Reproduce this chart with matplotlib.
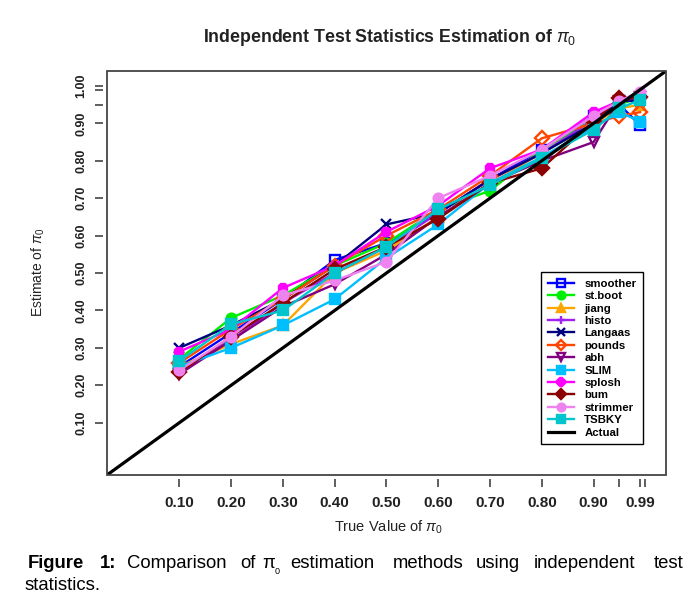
import matplotlib
matplotlib.use("Agg")
import matplotlib.pyplot as plt
from matplotlib.patches import Rectangle

plt.rcParams['font.family'] = ['Liberation Sans', 'DejaVu Sans']
plt.rcParams['mathtext.fontset'] = 'custom'
plt.rcParams['mathtext.rm'] = 'Liberation Sans'
plt.rcParams['mathtext.it'] = 'Liberation Sans:italic'
plt.rcParams['mathtext.bf'] = 'Liberation Sans:bold'

# ---------------- data ----------------
true_pi0 = [0.10, 0.20, 0.30, 0.40, 0.50, 0.60, 0.70, 0.80, 0.90, 0.95, 0.99]

smoother = [0.25, 0.34, 0.43, 0.535, 0.58, 0.66, 0.75, 0.83, 0.92, 0.95, 0.895]
st_boot  = [0.27, 0.38, 0.44, 0.52, 0.58, 0.67, 0.72, 0.83, 0.91, 0.95, 0.97]
jiang    = [0.25, 0.31, 0.36, 0.50, 0.56, 0.65, 0.74, 0.82, 0.90, 0.94, 0.95]
histo    = [0.24, 0.32, 0.42, 0.50, 0.57, 0.66, 0.75, 0.82, 0.91, 0.96, 0.97]
langaas  = [0.30, 0.36, 0.43, 0.52, 0.63, 0.66, 0.75, 0.82, 0.90, 0.96, 0.96]
pounds   = [0.26, 0.35, 0.43, 0.52, 0.60, 0.67, 0.76, 0.86, 0.90, 0.92, 0.93]
abh      = [0.23, 0.32, 0.41, 0.47, 0.55, 0.65, 0.74, 0.80, 0.85, 0.96, 0.97]
slim     = [0.25, 0.30, 0.36, 0.43, 0.54, 0.63, 0.74, 0.81, 0.89, 0.93, 0.905]
splosh   = [0.29, 0.35, 0.46, 0.52, 0.61, 0.68, 0.78, 0.83, 0.93, 0.96, 0.98]
bum      = [0.235, 0.33, 0.42, 0.51, 0.57, 0.645, 0.74, 0.78, 0.905, 0.967, 0.97]
strimmer = [0.24, 0.33, 0.44, 0.48, 0.53, 0.70, 0.76, 0.83, 0.92, 0.96, 0.985]
tsbky    = [0.265, 0.363, 0.40, 0.50, 0.57, 0.67, 0.735, 0.807, 0.883, 0.94, 0.963]

method_names = ["smoother", "st.boot", "jiang", "histo", "Langaas", "pounds",
                "abh", "SLIM", "splosh", "bum", "strimmer", "TSBKY"]
method_values = [smoother, st_boot, jiang, histo, langaas, pounds,
                 abh, slim, splosh, bum, strimmer, tsbky]

x_ticks = [0.10, 0.20, 0.30, 0.40, 0.50, 0.60, 0.70, 0.80, 0.90, 0.95, 0.99, 1.00]
x_ticklabels = ["0.10", "0.20", "0.30", "0.40", "0.50", "0.60", "0.70", "0.80",
                "0.90", "", "0.99", ""]
y_ticks = [0.10, 0.20, 0.30, 0.40, 0.50, 0.60, 0.70, 0.80, 0.90, 0.95, 0.99, 1.00]
y_ticklabels = ["0.10", "0.20", "0.30", "0.40", "0.50", "0.60", "0.70", "0.80",
                "0.90", "", "", "1.00"]

# ---------------- styles ----------------
colors = ["#0000FF", "#00EE00", "#FFA500", "#A020F0", "#000080", "#FF4500",
          "#800080", "#00BFFF", "#FF00FF", "#8B0000", "#EE82EE", "#00C5CD"]
markers = ["s", "o", "^", "+", "x", "D", "v", "s", "8", "D", "o", "s"]
hollow = [True, False, False, False, False, True, True, False, False, False, False, False]

W, H = 697, 598
fig = plt.figure(figsize=(W / 100, H / 100), dpi=100)

def px(x, y):
    return x / W, 1 - y / H

L, R, T, B = 107, 666, 71, 475
ax = fig.add_axes([L / W, 1 - B / H, (R - L) / W, (B - T) / H])
ax.set_xlim(-0.04, 1.04)
ax.set_ylim(-0.04, 1.04)

for name, vals, c, m, h in zip(method_names, method_values, colors, markers, hollow):
    ax.plot(true_pi0, vals, color=c, lw=1.7, marker=m, ms=7,
            mfc=("none" if h else c), mec=c, mew=1.7, label=name)

ax.axline((0, 0), (1, 1), color="black", lw=2.3, label="Actual")

# axes frame drawn as a rectangle, spines pushed outwards for the ticks gap
for s in ax.spines.values():
    s.set_color("none")
ax.spines['bottom'].set_position(('outward', 3))
ax.spines['left'].set_position(('outward', 3))
ax.add_patch(Rectangle((0, 0), 1, 1, transform=ax.transAxes, fill=False,
                       ec="#444444", lw=1.3, clip_on=False, zorder=5))

ax.set_xticks(x_ticks)
ax.set_xticklabels(x_ticklabels, fontsize=11, fontweight="bold", color="#222222")
ax.set_yticks(y_ticks)
ax.set_yticklabels(y_ticklabels, fontsize=9, fontweight="bold", color="#222222",
                   rotation=90, va="center")
ax.tick_params(axis="both", direction="out", length=6, width=1.1, color="#333333")
ax.tick_params(axis="x", pad=6)
ax.tick_params(axis="y", pad=5)

leg = ax.legend(loc="upper left", bbox_to_anchor=px(541, 272),
                bbox_transform=fig.transFigure, borderaxespad=0,
                prop={"size": 8.2, "weight": "bold"}, frameon=True, fancybox=False,
                edgecolor="black", framealpha=1, handlelength=2.3,
                handletextpad=0.9, labelspacing=0.21, borderpad=0.6,
                markerscale=0.8)
leg.get_frame().set_linewidth(1.0)

fig.text(*px(390, 38), r"Independent Test Statistics Estimation of $\pi_0$",
         ha="center", va="center", fontsize=12.8, fontweight="bold", color="#222222")
fig.text(*px(388, 527), r"True Value of $\pi_0$", ha="center", va="center",
         fontsize=10.5, color="#222222")
fig.text(*px(38, 272), r"Estimate of $\pi_0$", ha="center", va="center",
         fontsize=10, color="#222222", rotation=90)

# caption
cap = ['Liberation Sans', 'DejaVu Sans']
cy = 563
fs = 13.3
fig.text(*px(28, cy), "Figure", ha="left", va="center", fontsize=fs,
         fontweight="bold", family=cap)
fig.text(*px(100, cy), "1:", ha="left", va="center", fontsize=fs,
         fontweight="bold", family=cap)
words = [("Comparison", 127), ("of", 240), ("estimation", 290), ("methods", 393),
         ("using", 476), ("independent", 534), ("test", 654)]
for w, x in words:
    fig.text(*px(x, cy), w, ha="left", va="center", fontsize=fs, family=cap)
fig.text(*px(262, cy), "π", ha="left", va="center", fontsize=fs, family=cap)
fig.text(*px(275, cy + 8), "0", ha="left", va="center", fontsize=6.5, family=cap)
fig.text(*px(25, 585), "statistics.", ha="left", va="center", fontsize=fs, family=cap)

fig.savefig("out.png", dpi=100)
